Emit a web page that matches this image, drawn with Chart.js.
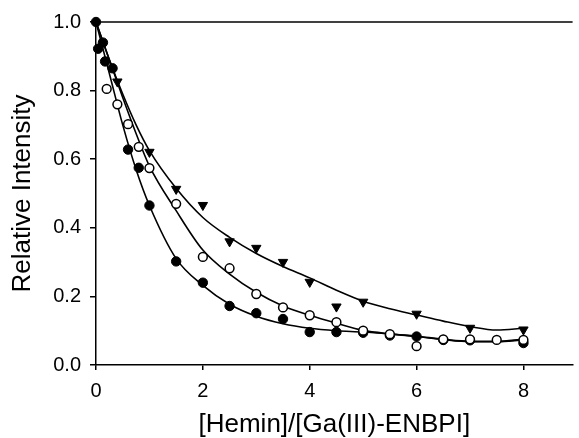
<!DOCTYPE html>
<html><head><meta charset="utf-8">
<script src="https://cdn.jsdelivr.net/npm/chart.js@4"></script>
<style>html,body{margin:0;padding:0;background:#fff}</style>
</head><body>
<canvas id="c" width="579" height="438"></canvas>
<script>
// Data
const filledX = [0, 0.04, 0.13, 0.17, 0.31, 0.6, 0.8, 1.0, 1.5, 2.0, 2.5, 3.0, 3.5, 4.0, 4.5, 5.0, 5.5, 6.0, 6.5, 7.0, 8.0];
const filledY = [1.0, 0.922, 0.94, 0.885, 0.865, 0.628, 0.575, 0.465, 0.302, 0.24, 0.172, 0.151, 0.134, 0.096, 0.096, 0.094, 0.086, 0.083, 0.073, 0.072, 0.064];

const openX = [0.2, 0.4, 0.6, 0.8, 1.0, 1.5, 2.0, 2.5, 3.0, 3.5, 4.0, 4.5, 5.0, 5.5, 6.0, 6.5, 7.0, 7.5, 8.0];
const openY = [0.805, 0.76, 0.702, 0.636, 0.574, 0.47, 0.315, 0.282, 0.207, 0.168, 0.145, 0.125, 0.1, 0.09, 0.055, 0.075, 0.075, 0.073, 0.073];

const triX = [0.4, 1.0, 1.5, 2.0, 2.5, 3.0, 3.5, 4.0, 4.5, 5.0, 6.0, 7.0, 8.0];
const triY = [0.826, 0.621, 0.513, 0.466, 0.36, 0.341, 0.3, 0.242, 0.17, 0.184, 0.149, 0.108, 0.103];

// Fitted curves
const fitX      = [0, 0.25, 0.5, 0.75, 1.0, 1.5, 2.0, 2.5, 3.0, 3.5, 4.0, 4.5, 5.0, 5.5, 6.0, 6.5, 7.0, 7.5, 8.0];
const fitFilled = [1.0, 0.85, 0.70, 0.57, 0.465, 0.31, 0.232, 0.177, 0.142, 0.12, 0.107, 0.1, 0.096, 0.09, 0.083, 0.074, 0.068, 0.068, 0.073];
const fitOpen   = [1.0, 0.89, 0.78, 0.675, 0.58, 0.45, 0.335, 0.265, 0.212, 0.172, 0.145, 0.122, 0.101, 0.091, 0.084, 0.075, 0.069, 0.069, 0.075];
const fitTri    = [1.0, 0.89, 0.79, 0.70, 0.625, 0.515, 0.43, 0.372, 0.325, 0.287, 0.254, 0.218, 0.186, 0.164, 0.146, 0.128, 0.112, 0.102, 0.107];

const xTicks = [0, 2, 4, 6, 8];
const yTicks = [0, 0.2, 0.4, 0.6, 0.8, 1.0];
const xTitle = '[Hemin]/[Ga(III)-ENBPI]';
const yTitle = 'Relative Intensity';

function pts(xs, ys) { return xs.map((x, i) => ({ x: x, y: ys[i] })); }

const FONT = 'Liberation Sans, Arial, Helvetica, sans-serif';

const topLine = {
  id: 'topLine',
  beforeDatasetsDraw(chart) {
    const { ctx, chartArea } = chart;
    const y = chart.scales.y.getPixelForValue(1.0);
    ctx.save();
    ctx.strokeStyle = '#000';
    ctx.lineWidth = 1.5;
    ctx.beginPath();
    ctx.moveTo(chartArea.left, y);
    ctx.lineTo(chartArea.right, y);
    ctx.stroke();
    ctx.restore();
  }
};

const fitStyle = {
  showLine: true, borderColor: '#000', borderWidth: 1.6, pointRadius: 0,
  cubicInterpolationMode: 'monotone', fill: false, clip: false
};

new Chart(document.getElementById('c'), {
  type: 'scatter',
  data: {
    datasets: [
      { label: 'open', data: pts(openX, openY), pointStyle: 'circle', pointRadius: 4.4,
        pointBackgroundColor: '#fff', pointBorderColor: '#000', pointBorderWidth: 1.5, clip: false },
      { label: 'filled', data: pts(filledX, filledY), pointStyle: 'circle', pointRadius: 4.7,
        pointBackgroundColor: '#000', pointBorderColor: '#000', pointBorderWidth: 1, clip: false },
      { label: 'tri', data: pts(triX, triY), pointStyle: 'triangle', pointRotation: 180, pointRadius: 5.4,
        pointBackgroundColor: '#000', pointBorderColor: '#000', pointBorderWidth: 1, clip: false },
      Object.assign({ label: 'fitFilled', data: pts(fitX, fitFilled) }, fitStyle),
      Object.assign({ label: 'fitOpen', data: pts(fitX, fitOpen) }, fitStyle),
      Object.assign({ label: 'fitTri', data: pts(fitX, fitTri) }, fitStyle)
    ]
  },
  options: {
    responsive: false,
    animation: false,
    devicePixelRatio: 1,
    layout: { padding: { top: 22, right: 0, left: 0, bottom: 0 } },
    plugins: { legend: { display: false }, tooltip: { enabled: false } },
    scales: {
      x: {
        type: 'linear', min: 0, max: 8.92,
        afterBuildTicks: s => { s.ticks = xTicks.map(v => ({ value: v })); },
        afterFit: s => { s.height = 73; },
        grid: { drawOnChartArea: false, tickLength: 5, color: '#000', lineWidth: 1.5 },
        border: { color: '#000', width: 1.5 },
        ticks: { color: '#000', font: { family: FONT, size: 20 }, padding: 9, maxRotation: 0,
                 callback: v => String(v) },
        title: { display: true, text: xTitle, color: '#000',
                 font: { family: FONT, size: 26, lineHeight: 1 }, padding: { top: 0, bottom: 0 } }
      },
      y: {
        type: 'linear', min: 0, max: 1,
        afterBuildTicks: s => { s.ticks = yTicks.map(v => ({ value: v })); },
        afterFit: s => { s.width = 96; },
        grid: { drawOnChartArea: false, tickLength: 6, color: '#000', lineWidth: 1.5 },
        border: { color: '#000', width: 1.5 },
        ticks: { color: '#000', font: { family: FONT, size: 20 }, padding: 9,
                 callback: v => Number(v).toFixed(1) },
        title: { display: true, text: yTitle, color: '#000',
                 font: { family: FONT, size: 26, lineHeight: 1 }, padding: { top: 10, bottom: 0 } }
      }
    }
  },
  plugins: [topLine]
});
</script>
</body></html>
